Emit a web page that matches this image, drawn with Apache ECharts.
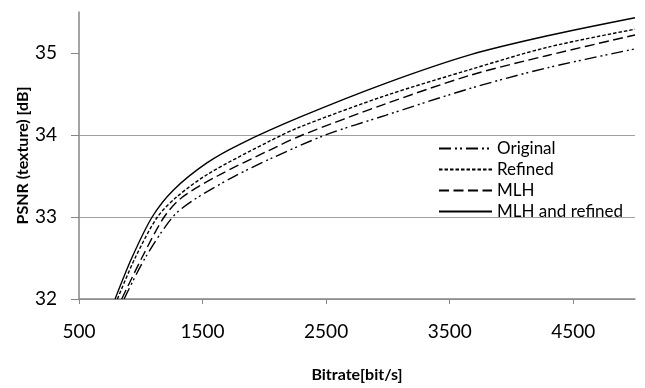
<!DOCTYPE html>
<html>
<head>
<meta charset="utf-8">
<script src="https://cdn.jsdelivr.net/npm/echarts@6/dist/echarts.min.js"></script>
<style>
  html, body { margin: 0; padding: 0; background: #fff; }
  #chart { width: 645px; height: 388px; }
</style>
</head>
<body>
<div id="chart"></div>
<script>
// [bitrate, PSNR] pairs
const original = [[865, 32.0], [1035, 32.5], [1258, 33.0], [1420, 33.2], [1750, 33.49], [2049, 33.71], [2495, 34.0], [2981, 34.24], [3670, 34.57], [4292, 34.82], [5000, 35.05]];
const refined = [[811, 32.0], [954, 32.5], [1135, 33.0], [1295, 33.25], [1550, 33.53], [2049, 33.93], [2292, 34.1], [2981, 34.48], [3670, 34.8], [4292, 35.07], [5000, 35.29]];
const mlh = [[846, 32.0], [1008, 32.5], [1189, 33.0], [1335, 33.24], [1620, 33.5], [2049, 33.82], [2308, 34.0], [2981, 34.38], [3670, 34.73], [4292, 34.97], [5000, 35.22]];
const mlhRefined = [[792, 32.0], [927, 32.5], [1092, 33.0], [1265, 33.33], [1535, 33.66], [1805, 33.89], [2292, 34.22], [2981, 34.63], [3670, 34.98], [4292, 35.21], [5000, 35.43]];

const X_TICKS = [500, 1500, 2500, 3500, 4500];
const Y_TICKS = [32, 33, 34, 35];

const FONT = "Lato";
const AXIS = "#868686";
const GRID = "#a0a0a0";

function line(name, data, dash) {
  return {
    name,
    type: "line",
    data,
    smooth: 0.3,
    showSymbol: false,
    symbol: "none",
    lineStyle: { color: "#000", width: 1.4, type: dash },
    itemStyle: { color: "#000" },
  };
}

const chart = echarts.init(document.getElementById("chart"), null, { renderer: "canvas" });
chart.setOption({
  animation: false,
  grid: { left: 79, right: 10, top: 12, bottom: 84 },
  legend: {
    orient: "vertical",
    left: 433,
    top: 135,
    itemWidth: 53,
    itemHeight: 14,
    itemGap: 4,
    itemStyle: { opacity: 0 },
    textStyle: { color: "#000", fontFamily: FONT, fontSize: 17, lineHeight: 15 },
    data: ["Original", "Refined", "MLH", "MLH and refined"],
  },
  xAxis: {
    type: "value",
    min: 500,
    max: 5000,
    name: "Bitrate[bit/s]",
    nameLocation: "middle",
    nameGap: 68,
    nameTextStyle: { color: "#000", fontFamily: FONT, fontSize: 16, fontWeight: "bold" },
    axisLine: { lineStyle: { color: AXIS, width: 1.5 } },
    axisTick: { show: true, length: 5, customValues: X_TICKS, lineStyle: { color: AXIS } },
    axisLabel: {
      customValues: X_TICKS,
      formatter: (v) => String(v),
      color: "#000", fontFamily: FONT, fontSize: 19, margin: 23,
    },
    splitLine: { show: false },
  },
  yAxis: {
    type: "value",
    min: 32,
    max: 35.5,
    interval: 1,
    name: "PSNR (texture) [dB]",
    nameLocation: "middle",
    nameGap: 48,
    nameMoveOverlap: false,
    nameTextStyle: { color: "#000", fontFamily: FONT, fontSize: 16, fontWeight: "bold" },
    axisLine: { show: true, lineStyle: { color: AXIS, width: 1.5 } },
    axisTick: { show: true, length: 8, customValues: Y_TICKS, lineStyle: { color: AXIS } },
    axisLabel: { customValues: Y_TICKS, color: "#000", fontFamily: FONT, fontSize: 19, margin: 22 },
    splitLine: { show: true, showMaxLine: false, lineStyle: { color: GRID, width: 1 } },
  },
  series: [
    line("Original", original, [12, 4, 2, 3, 2, 4]),
    line("Refined", refined, [3.5, 2]),
    line("MLH", mlh, [10, 4.5]),
    line("MLH and refined", mlhRefined, "solid"),
  ],
});
</script>
</body>
</html>
